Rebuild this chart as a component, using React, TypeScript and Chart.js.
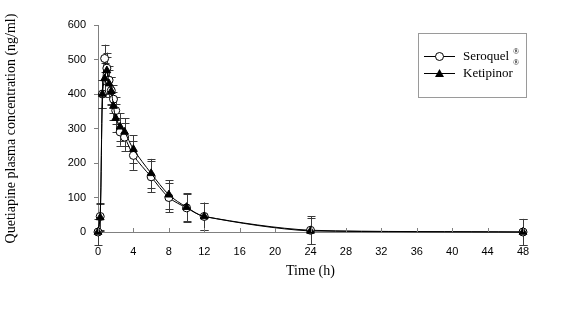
import React, { useEffect, useRef } from "react";
import { Chart, registerables } from "chart.js";

Chart.register(...registerables);

const times = [0, 0.25, 0.5, 0.75, 1, 1.25, 1.5, 1.75, 2, 2.5, 3, 4, 6, 8, 10, 12, 24, 48];
const seroquel = [0, 45, 400, 503, 475, 440, 410, 385, 352, 290, 275, 222, 160, 100, 70, 45, 5, 0];
const ketipinor = [0, 42, 400, 445, 468, 430, 408, 365, 330, 305, 290, 240, 170, 108, 72, 45, 3, 0];
const seroquelSD = [0, 38, 40, 40, 45, 40, 40, 40, 40, 40, 40, 42, 45, 42, 40, 40, 40, 37];
const ketipinorSD = [38, 40, 40, 45, 40, 40, 40, 40, 40, 40, 40, 40, 42, 42, 40, 40, 38, 38];
const seriesNames = ["Seroquel", "Ketipinor"];
const xTicks = [0, 4, 8, 12, 16, 20, 24, 28, 32, 36, 40, 44, 48];
const yTitle = "Quetiapine plasma concentration (ng/ml)";
const xTitle = "Time (h)";

const SERIF = "'Liberation Serif', 'Times New Roman', serif";
const SANS = "'Liberation Sans', Arial, sans-serif";

const errorBarPlugin = {
  id: "errorBars",
  beforeDatasetsDraw(chart: any) {
    const { ctx, scales } = chart;
    const xs = scales.x;
    const ys = scales.y;
    const sds = [seroquelSD, ketipinorSD];
    const vals = [seroquel, ketipinor];
    ctx.save();
    ctx.strokeStyle = "#3a3a3a";
    ctx.lineWidth = 1;
    for (let s = 0; s < 2; s++) {
      for (let i = 0; i < times.length; i++) {
        const sd = sds[s][i];
        if (!sd) continue;
        const x = Math.round(xs.getPixelForValue(times[i])) + 0.5;
        const yTop = ys.getPixelForValue(vals[s][i] + sd);
        const yBot = ys.getPixelForValue(vals[s][i] - sd);
        ctx.beginPath();
        ctx.moveTo(x, yTop);
        ctx.lineTo(x, yBot);
        ctx.moveTo(x - 4, Math.round(yTop) + 0.5);
        ctx.lineTo(x + 4, Math.round(yTop) + 0.5);
        ctx.moveTo(x - 4, Math.round(yBot) + 0.5);
        ctx.lineTo(x + 4, Math.round(yBot) + 0.5);
        ctx.stroke();
      }
    }
    ctx.restore();
  },
};

const insideTicksPlugin = {
  id: "insideTicks",
  afterDraw(chart: any) {
    const { ctx, scales, chartArea } = chart;
    ctx.save();
    ctx.strokeStyle = "#808080";
    ctx.lineWidth = 1;
    ctx.beginPath();
    for (const t of xTicks) {
      const x = Math.round(scales.x.getPixelForValue(t)) + 0.5;
      ctx.moveTo(x, chartArea.bottom);
      ctx.lineTo(x, chartArea.bottom - 4);
    }
    ctx.stroke();
    ctx.restore();
  },
};

const legendPlugin = {
  id: "customLegend",
  afterDraw(chart: any) {
    const { ctx } = chart;
    ctx.save();
    ctx.strokeStyle = "#9a9a9a";
    ctx.lineWidth = 1;
    ctx.strokeRect(418.5, 33.5, 108, 64);
    const rows = [56, 73];
    for (let i = 0; i < 2; i++) {
      const y = rows[i] + 0.5;
      ctx.strokeStyle = "#000";
      ctx.beginPath();
      ctx.moveTo(424, y);
      ctx.lineTo(455, y);
      ctx.stroke();
      const cx = 439.5;
      if (i === 0) {
        ctx.fillStyle = "#fff";
        ctx.beginPath();
        ctx.arc(cx, y, 4, 0, Math.PI * 2);
        ctx.fill();
        ctx.stroke();
      } else {
        ctx.fillStyle = "#000";
        ctx.beginPath();
        ctx.moveTo(cx, y - 4.5);
        ctx.lineTo(cx + 4.5, y + 3.5);
        ctx.lineTo(cx - 4.5, y + 3.5);
        ctx.closePath();
        ctx.fill();
      }
      ctx.fillStyle = "#000";
      ctx.font = `13px ${SERIF}`;
      ctx.textBaseline = "middle";
      ctx.textAlign = "left";
      ctx.fillText(seriesNames[i], 463, rows[i] + 1);
      ctx.font = `8px ${SERIF}`;
      ctx.fillText("®", 513, rows[i] - (i === 0 ? 4 : 10));
    }
    ctx.restore();
  },
};

export default function App() {
  const canvasRef = useRef<HTMLCanvasElement | null>(null);

  useEffect(() => {
    if (!canvasRef.current) return;
    const chart = new Chart(canvasRef.current, {
      type: "line",
      data: {
        datasets: [
          {
            label: seriesNames[0],
            data: times.map((t, i) => ({ x: t, y: seroquel[i] })),
            order: 1,
            borderColor: "#000",
            borderWidth: 1,
            backgroundColor: "#fff",
            pointBackgroundColor: "#fff",
            pointBorderColor: "#000",
            pointBorderWidth: 1,
            pointStyle: "circle",
            pointRadius: 4,
            tension: 0.3,
            clip: false as any,
          },
          {
            label: seriesNames[1],
            data: times.map((t, i) => ({ x: t, y: ketipinor[i] })),
            order: 0,
            borderColor: "#000",
            borderWidth: 1,
            backgroundColor: "#000",
            pointBackgroundColor: "#000",
            pointBorderColor: "#000",
            pointBorderWidth: 1,
            pointStyle: "triangle",
            pointRadius: 4.5,
            tension: 0.3,
            clip: false as any,
          },
        ],
      },
      options: {
        animation: false,
        responsive: true,
        maintainAspectRatio: false,
        layout: { padding: { top: 25, right: 41, left: 0, bottom: 0 } },
        plugins: {
          legend: { display: false },
          tooltip: { enabled: false },
        },
        scales: {
          x: {
            type: "linear",
            min: 0,
            max: 48,
            afterBuildTicks: (scale: any) => {
              scale.ticks = xTicks.map((v) => ({ value: v }));
            },
            afterFit: (scale: any) => {
              scale.height = 80;
            },
            grid: { drawOnChartArea: false, drawTicks: false, color: "#808080" },
            border: { display: true, color: "#808080" },
            ticks: {
              color: "#000",
              font: { family: SANS, size: 11 },
              padding: 13,
              maxRotation: 0,
              autoSkip: false,
            },
            title: {
              display: true,
              text: xTitle,
              color: "#000",
              font: { family: SERIF, size: 14 },
              padding: { top: 4, bottom: 32 },
            },
          },
          y: {
            min: 0,
            max: 600,
            afterFit: (scale: any) => {
              scale.width = 98;
            },
            grid: { drawOnChartArea: false, drawTicks: true, tickLength: 4, color: "#808080" },
            border: { display: true, color: "#808080" },
            ticks: {
              stepSize: 100,
              color: "#000",
              font: { family: SANS, size: 11 },
              padding: 8,
            },
            title: {
              display: true,
              text: yTitle,
              color: "#000",
              font: { family: SERIF, size: 14 },
              padding: { top: 3, bottom: 0 },
            },
          },
        },
      },
      plugins: [errorBarPlugin, insideTicksPlugin, legendPlugin],
    });
    return () => chart.destroy();
  }, []);

  return (
    <div style={{ position: "absolute", left: 0, top: 0, width: 564, height: 312, background: "#fff" }}>
      <canvas ref={canvasRef} />
    </div>
  );
}
